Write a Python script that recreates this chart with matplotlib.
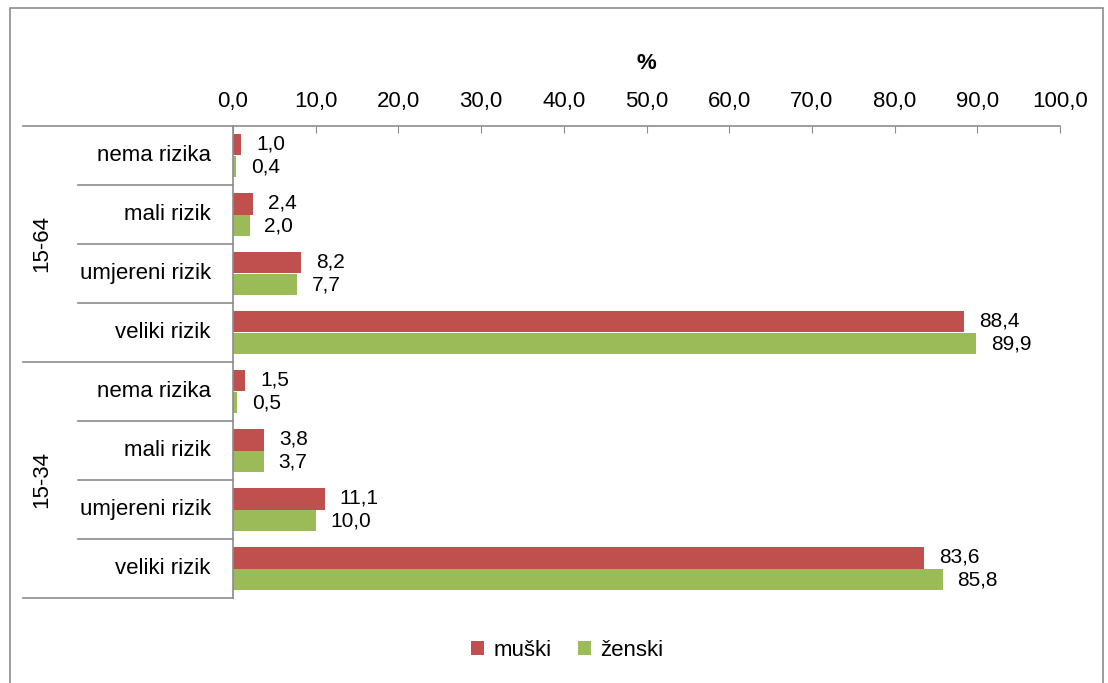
import numpy as np
import matplotlib.pyplot as plt
from matplotlib.patches import Rectangle
from matplotlib.transforms import blended_transform_factory

plt.rcParams['font.family'] = ['Liberation Sans Narrow', 'Liberation Sans', 'DejaVu Sans']

groups = ['15-64', '15-34']
risk = ['nema rizika', 'mali rizik', 'umjereni rizik', 'veliki rizik']
male = [1.0, 2.4, 8.2, 88.4, 1.5, 3.8, 11.1, 83.6]
female = [0.4, 2.0, 7.7, 89.9, 0.5, 3.7, 10.0, 85.8]
ticks = np.arange(0, 101, 10)

RED = '#C0504D'
GREEN = '#9BBB59'
GREY = '#8C8C8C'

fig = plt.figure(figsize=(11.08, 6.83), dpi=100)
ax = fig.add_axes([233 / 1108, 1 - 598 / 683, (1060 - 233) / 1108, (598 - 126) / 683])

labels = risk * len(groups)
y = np.arange(len(labels))
h = 0.37
ax.barh(y - h / 2, male, height=h, color=RED, label='muški')
ax.barh(y + h / 2, female, height=h, color=GREEN, label='ženski')

for yi, m, f in zip(y, male, female):
    ax.text(m + 1.8, yi - 0.2, f'{m:.1f}'.replace('.', ','), va='center', ha='left', fontsize=15)
    ax.text(f + 1.8, yi + 0.2, f'{f:.1f}'.replace('.', ','), va='center', ha='left', fontsize=15)

ax.set_xlim(0, 100)
ax.set_ylim(len(labels) - 0.5, -0.5)
ax.xaxis.tick_top()
ax.set_xticks(ticks)
ax.set_xticklabels([f'{t:.1f}'.replace('.', ',') for t in ticks], fontsize=16)
ax.tick_params(axis='x', direction='in', length=5, color=GREY, pad=10)
ax.set_yticks([])
ax.set_title('%', fontsize=16, fontweight='bold', pad=41)

for s in ['right', 'bottom']:
    ax.spines[s].set_visible(False)
for s in ['left', 'top']:
    ax.spines[s].set_color(GREY)
    ax.spines[s].set_linewidth(1.2)

# hierarchical category axis on the left
tr = blended_transform_factory(ax.transAxes, ax.transData)
x_inner = (78 - 233) / (1060 - 233)
x_outer = (23 - 233) / (1060 - 233)
for yi, lab in zip(y, labels):
    ax.text(-0.027, yi, lab, transform=tr, ha='right', va='center', fontsize=16)
for b in np.arange(len(labels) + 1) - 0.5:
    x0 = x_outer if (b + 0.5) % len(risk) == 0 else x_inner
    ax.plot([x0, 0], [b, b], transform=tr, color=GREY, lw=1.2, clip_on=False)
x_grp = (42 - 233) / (1060 - 233)
for gi, g in enumerate(groups):
    ax.text(x_grp, gi * len(risk) + 1.5, g, transform=tr, rotation=90, ha='center', va='center', fontsize=16)

leg = fig.legend(loc='center', bbox_to_anchor=(0.512, 1 - 650 / 683), ncol=2, frameon=False,
                 fontsize=16, handlelength=0.6, handleheight=0.6, handletextpad=0.4, columnspacing=1.2)

fig.patches.append(Rectangle((10 / 1108, -0.05), (1103 - 10) / 1108, 1.05 - 8 / 683,
                             transform=fig.transFigure, fill=False, edgecolor=GREY, lw=1.2))

plt.savefig('out.png', dpi=100)
